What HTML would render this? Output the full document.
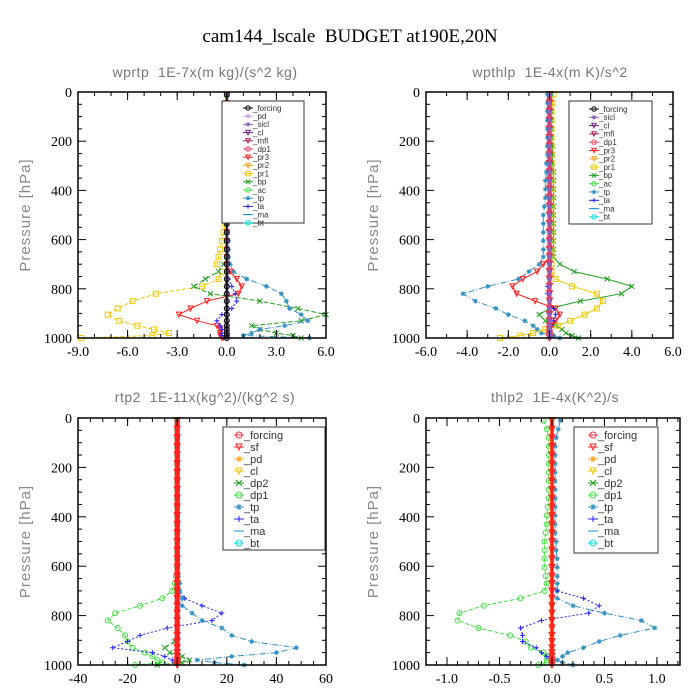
<!DOCTYPE html>
<html><head><meta charset="utf-8"><style>
body{margin:0;background:#fff}
svg{display:block}
text{white-space:pre}
</style></head><body>
<svg id="chart" width="700" height="700" viewBox="0 0 700 700" xmlns="http://www.w3.org/2000/svg">
<text x="350" y="42" text-anchor="middle" font-family="Liberation Serif, serif" font-size="19" fill="#000">cam144_lscale  BUDGET at190E,20N</text>
</svg>
<script>
// Pressure levels (hPa)
const levels = [10,45,80,115,150,185,220,255,290,325,360,395,430,465,500,535,570,605,640,670,700,730,760,790,820,850,880,905,930,950,965,980,990,1000];

// Panel 1: wprtp
const p1_pr1 = [0,0,0,0,0,0,0,0,0,0,0,0,0,0,-0.05,-0.1,-0.2,-0.3,-0.4,-0.5,-0.6,-0.3,-0.5,-1.5,-4.3,-5.7,-6.6,-7.2,-6.5,-5.4,-4.4,-3.5,-4.5,-8.8];
const p1_bp  = [0,0,0,0,0,0,0,0,0,0,0,0,0,0,0,0,0,0,0,0,-0.2,-0.5,-1.3,-2.0,-1.0,2.0,4.3,6.0,4.5,1.5,2.0,3.0,4.0,4.5];
const p1_tp  = [0,0,0,0,0,0,0,0,0,0,0,0,0,0,0,0,0.05,0.1,0.1,0.1,0.2,0.4,1.2,2.4,3.3,3.6,3.8,4.5,4.9,3.5,2.0,1.5,1.0,5.0];
const p1_pr3 = [0,0,0,0,0,0,0,0,0,0,0,0,0,0,0,0,0,0,0,0,0,0.2,0.6,0.9,0.7,-1.2,-2.2,-2.9,-1.8,-0.6,-0.4,-0.4,-0.4,-0.3];
const p1_ta  = [0,0,0,0,0,0,0,0,0,0,0,0,0,0,0,0,0,0,0,0,0,0,0.1,0.3,0.5,0.6,0.3,-0.3,-0.6,-0.4,-0.3,-0.3,-0.3,-0.2];
const p1_zero= [0,0,0,0,0,0,0,0,0,0,0,0,0,0,0,0,0,0,0,0,0,0,0,0,0,0,0,0,0,0,0,0,0,0];
const p1_xticks = [-9,-6,-3,0,3,6];
const p1_legend = ["_forcing","_pd","_sicl","_cl","_mfl","_dp1","_pr3","_pr2","_pr1","_bp","_ac","_tp","_ta","_ma","_bt"];

// Panel 2: wpthlp
const p2_tp  = [-0.1,-0.1,-0.1,-0.1,-0.1,-0.1,-0.1,-0.1,-0.15,-0.15,-0.2,-0.2,-0.2,-0.25,-0.3,-0.3,-0.3,-0.3,-0.3,-0.3,-0.5,-1.0,-1.5,-3.0,-4.2,-3.6,-2.6,-2.0,-1.2,-0.8,-0.6,-0.4,0.2,0.5];
const p2_bp  = [0.1,0.1,0.1,0.1,0.1,0.1,0.15,0.15,0.15,0.2,0.2,0.2,0.2,0.2,0.2,0.2,0.2,0.2,0.2,0.2,0.5,1.2,2.8,4.0,3.5,1.5,0.0,-0.5,-0.2,0.3,0.6,0.8,1.1,1.4];
const p2_pr1 = [0.2,0.15,0.1,0.1,0.1,0.1,0.1,0.1,0.1,0.1,0.1,0.1,0.1,0.1,0.1,0.1,0.1,0.1,0.1,0.1,0.1,0.1,0.3,1.1,2.3,2.6,2.3,1.7,1.0,0.4,-0.2,-0.8,-1.4,-2.4];
const p2_pr3 = [0,0,0,0,0,0,0,0,0,0,0,0,0,0,0,0,0,0,0,0,-0.3,-0.6,-1.3,-1.8,-1.6,-0.7,0.3,0.5,0.3,0.1,0,0,0,0];
const p2_ta  = [0,0,0,0,0,0,0,0,0,0,0,0,0,0,0,0,0,0,0,0,0,0,0,-0.1,-0.1,0,0.2,0.3,0.2,0.1,0,0,0,0];
const p2_zero= [0,0,0,0,0,0,0,0,0,0,0,0,0,0,0,0,0,0,0,0,0,0,0,0,0,0,0,0,0,0,0,0,0,0];
const p2_xticks = [-6,-4,-2,0,2,4,6];
const p2_legend = ["_forcing","_sicl","_cl","_mfl","_dp1","_pr3","_pr2","_pr1","_bp","_ac","_tp","_ta","_ma","_bt"];

// Panel 3: rtp2
const p3_dp1 = [0,0,0,0,0,0,0,0,0,0,0,0,0,0,0,0,0,0,-0.5,-1,-2,-6,-15,-25,-28,-24,-21,-20,-18,-13,-10,-8,-6,-17];
const p3_ta  = [0,0,0,0,0,0,0,0,0,0,0,0,0,0,0,0,0,0,0,0.5,1,3,10,18,14,-4,-15,-20,-26,-10,-5,-2,-1,0];
const p3_tp  = [0,0,0,0,0,0,0,0,0,0,0,0,0,0,0,0,0,0,0.5,1,1,2,2,6,10,18,22,30,48,40,22,8,15,27];
const p3_dp2 = [0,0,0,0,0,0,0,0,0,0,0,0,0,0,0,0,0,0,0,0,0,0,0,0,0,0,0,-1,-5,-3,2,5,2,-8];
const p3_zero= [0,0,0,0,0,0,0,0,0,0,0,0,0,0,0,0,0,0,0,0,0,0,0,0,0,0,0,0,0,0,0,0,0,0];
const p3_xticks = [-40,-20,0,20,40,60];
const p3_legend = ["_forcing","_sf","_pd","_cl","_dp2","_dp1","_tp","_ta","_ma","_bt"];

// Panel 4: thlp2
const p4_dp1 = [-0.08,-0.05,-0.03,-0.03,-0.03,-0.03,-0.03,-0.03,-0.03,-0.03,-0.04,-0.05,-0.05,-0.06,-0.07,-0.07,-0.07,-0.07,-0.06,-0.05,-0.07,-0.3,-0.65,-0.88,-0.9,-0.7,-0.4,-0.25,-0.2,-0.08,-0.05,-0.05,-0.05,-0.13];
const p4_tp  = [0.08,0.06,0.04,0.03,0.03,0.03,0.03,0.03,0.03,0.03,0.03,0.03,0.03,0.03,0.04,0.04,0.05,0.05,0.05,0.05,0.05,0.05,0.2,0.5,0.85,0.98,0.65,0.45,0.3,0.15,0.1,0.05,0.1,0.2];
const p4_ta  = [0,0,0,0,0,0,0,0,0,0,0,0,0,0,0,0,0,0,0,0,0.05,0.3,0.45,0.35,-0.1,-0.3,-0.28,-0.28,-0.15,-0.1,-0.05,0,0,0];
const p4_zero= [0,0,0,0,0,0,0,0,0,0,0,0,0,0,0,0,0,0,0,0,0,0,0,0,0,0,0,0,0,0,0,0,0,0];
const p4_xticks = [-1.0,-0.5,0.0,0.5,1.0];
const p4_legend = ["_forcing","_sf","_pd","_cl","_dp2","_dp1","_tp","_ta","_ma","_bt"];
const yticks = [0,200,400,600,800,1000];

const svg = document.getElementById('chart');
const NS = 'http://www.w3.org/2000/svg';
function mk(tag, attrs, parent){
  const e = document.createElementNS(NS, tag);
  for (const k in attrs) e.setAttribute(k, attrs[k]);
  (parent||svg).appendChild(e);
  return e;
}
const colorsTop = {"_forcing":"#000","_pd":"#c8a8e0","_sicl":"#9060c0","_cl":"#702080","_mfl":"#b02050","_dp1":"#ff4060","_pr3":"#ff2020","_pr2":"#ffa020","_pr1":"#f0c800","_bp":"#20a020","_ac":"#40e040","_tp":"#3090c0","_ta":"#2020ff","_ma":"#1090e0","_bt":"#00e0e0"};
const colorsBot = {"_forcing":"#ff3040","_sf":"#ff2020","_pd":"#ffa020","_cl":"#f0c800","_dp2":"#20a020","_dp1":"#40e040","_tp":"#3090c0","_ta":"#2020ff","_ma":"#1090e0","_bt":"#00e0e0"};
const markers = {"_forcing":"o","_pd":"*","_sicl":"*","_cl":"t","_mfl":"t","_dp1":"o","_pr3":"t","_pr2":"t","_pr1":"s","_bp":"x","_ac":"o","_tp":"*","_ta":"+","_ma":"-","_bt":"o","_sf":"t","_dp2":"x"};
function marker(g, type, x, y, c, r){
  r = r||2.5;
  if (type==='o') mk('circle',{cx:x,cy:y,r:r,fill:'none',stroke:c,'stroke-width':1},g);
  else if (type==='s') mk('rect',{x:x-r,y:y-r,width:2*r,height:2*r,fill:'none',stroke:c,'stroke-width':1},g);
  else if (type==='t') mk('path',{d:`M${x-r} ${y-r}L${x+r} ${y-r}L${x} ${y+r}Z`,fill:'none',stroke:c,'stroke-width':1},g);
  else if (type==='x') mk('path',{d:`M${x-r} ${y-r}L${x+r} ${y+r}M${x-r} ${y+r}L${x+r} ${y-r}`,stroke:c,'stroke-width':1},g);
  else if (type==='+') mk('path',{d:`M${x-r} ${y}L${x+r} ${y}M${x} ${y-r}L${x} ${y+r}`,stroke:c,'stroke-width':1},g);
  else if (type==='*') mk('path',{d:`M${x-r} ${y}L${x+r} ${y}M${x} ${y-r}L${x} ${y+r}M${x-r*0.7} ${y-r*0.7}L${x+r*0.7} ${y+r*0.7}M${x-r*0.7} ${y+r*0.7}L${x+r*0.7} ${y-r*0.7}`,stroke:c,'stroke-width':1},g);
  else if (type==='-') mk('path',{d:`M${x-r} ${y}L${x+r} ${y}`,stroke:c,'stroke-width':1},g);
}
function panel(cfg){
  const colors = cfg.colors;
  const g = mk('g',{});
  
  
  const {x0,x1,y0,y1,xmin,xmax} = cfg;
  const sx = v => x0 + (v - xmin)/(xmax - xmin)*(x1 - x0);
  const sy = p => y0 + p/1000*(y1 - y0);
  const t = mk('text',{x:cfg.tx,y:cfg.ty,'text-anchor':'middle','font-family':'Liberation Sans, sans-serif','font-size':14,fill:'#777','letter-spacing':'0.5'},g);
  t.textContent = cfg.title;
  
  
  const yt = mk('text',{x:0,y:0,transform:`translate(${x0-48},${(y0+y1)/2}) rotate(-90)`,'text-anchor':'middle','font-family':'Liberation Sans, sans-serif','font-size':15,fill:'#888','letter-spacing':'1'},g);
  yt.textContent = 'Pressure [hPa]';
  
  
  cfg.series.forEach(s => {
    const sg = mk('g',{},g);
    
    
    const c = colors[s.key];
    const pts = s.vals.map((v,i)=>`${sx(v).toFixed(1)},${sy(levels[i]).toFixed(1)}`).join(' ');
    mk('polyline',{points:pts,fill:'none',stroke:c,'stroke-width':s.w||1,'stroke-dasharray':s.dash||'none'},sg);
    s.vals.forEach((v,i)=>marker(sg, markers[s.key], sx(v), sy(levels[i]), c, s.r||2.5));
  });
  const f = mk('rect',{x:x0,y:y0,width:x1-x0,height:y1-y0,fill:'none',stroke:'#000','stroke-width':1.5},g);
  
  
  for (let p=0;p<=1000;p+=50){
    const L = p%200===0 ? 8 : 4;
    mk('line',{x1:x0,x2:x0+L,y1:sy(p),y2:sy(p),stroke:'#000'},g);
    mk('line',{x1:x1,x2:x1-L,y1:sy(p),y2:sy(p),stroke:'#000'},g);
  }
  yticks.forEach(p=>{
    const tl = mk('text',{x:x0-6,y:sy(p)+5,'text-anchor':'end','font-family':'Liberation Serif, serif','font-size':14,fill:'#000'},g);
    tl.textContent = p;
    
    
  });
  for (let v=cfg.minStart; v<=xmax+1e-9; v+=cfg.minStep){
    if (v < xmin-1e-9) continue;
    mk('line',{x1:sx(v),x2:sx(v),y1:y1,y2:y1-4,stroke:'#000'},g);
    mk('line',{x1:sx(v),x2:sx(v),y1:y0,y2:y0+4,stroke:'#000'},g);
  }
  cfg.xticks.forEach(v=>{
    mk('line',{x1:sx(v),x2:sx(v),y1:y1,y2:y1-8,stroke:'#000'},g);
    mk('line',{x1:sx(v),x2:sx(v),y1:y0,y2:y0+8,stroke:'#000'},g);
    const tl = mk('text',{x:sx(v),y:y1+18,'text-anchor':'middle','font-family':'Liberation Serif, serif','font-size':14,fill:'#000'},g);
    tl.textContent = v.toFixed(cfg.dec);
    
    
  });
  const lg = mk('g',{},g);
  
  
  const L = cfg.leg;
  mk('rect',{x:L.x,y:L.y,width:L.w,height:L.h,fill:'#fff',stroke:'#333','stroke-width':1},lg);
  cfg.legend.forEach((name,i)=>{
    const yy = L.y0 + i*L.dy;
    const c = colors[name];
    mk('line',{x1:L.mx-5,x2:L.mx+5,y1:yy,y2:yy,stroke:c},lg);
    marker(lg, markers[name], L.mx, yy, c, L.fs>9?3:2.2);
    const tx = mk('text',{x:L.mx+5,y:yy+L.fs*0.35,'font-family':'Liberation Sans, sans-serif','font-size':L.fs,fill:'#333'},lg);
    tx.textContent = name;
    
    
  });
}
panel({name:'panel-wprtp',colors:colorsTop,title:'wprtp  1E-7x(m kg)/(s^2 kg)',tx:205,ty:77,x0:78,x1:326,y0:92,y1:338,xmin:-9,xmax:6,xticks:p1_xticks,dec:1,minStart:-9,minStep:1,
  series:[{key:'_pr1',vals:p1_pr1,dash:'4,2'},{key:'_bp',vals:p1_bp,dash:'5,2'},{key:'_tp',vals:p1_tp,dash:'6,2,1,2'},{key:'_pr3',vals:p1_pr3},{key:'_ta',vals:p1_ta,dash:'2,2'},{key:'_sicl',vals:p1_zero,w:3},{key:'_forcing',vals:p1_zero,w:1.5}],
  legend:p1_legend,leg:{x:222,y:101,w:82,h:122,mx:248,y0:108,dy:8.2,fs:8}});
panel({name:'panel-wpthlp',colors:colorsTop,title:'wpthlp  1E-4x(m K)/s^2',tx:550,ty:77,x0:426,x1:673,y0:92,y1:338,xmin:-6,xmax:6,xticks:p2_xticks,dec:1,minStart:-6,minStep:1,
  series:[{key:'_tp',vals:p2_tp,dash:'6,2,1,2'},{key:'_bp',vals:p2_bp},{key:'_pr1',vals:p2_pr1},{key:'_pr3',vals:p2_pr3},{key:'_ta',vals:p2_ta,dash:'2,2'},{key:'_pr3',vals:p2_zero,w:4,r:3},{key:'_sicl',vals:p2_zero,w:2}],
  legend:p2_legend,leg:{x:569,y:101,w:83,h:123,mx:594,y0:109,dy:8.3,fs:8}});
panel({name:'panel-rtp2',colors:colorsBot,title:'rtp2  1E-11x(kg^2)/(kg^2 s)',tx:205,ty:402,x0:78,x1:326,y0:418,y1:665,xmin:-40,xmax:60,xticks:p3_xticks,dec:0,minStart:-40,minStep:5,
  series:[{key:'_dp1',vals:p3_dp1,dash:'4,2'},{key:'_ta',vals:p3_ta,dash:'2,2'},{key:'_tp',vals:p3_tp,dash:'6,2,1,2'},{key:'_dp2',vals:p3_dp2,dash:'4,2'},{key:'_sf',vals:p3_zero,w:5,r:3}],
  legend:p3_legend,leg:{x:223,y:427,w:102,h:123,mx:239,y0:435,dy:12,fs:11}});
panel({name:'panel-thlp2',colors:colorsBot,title:'thlp2  1E-4x(K^2)/s',tx:555,ty:402,x0:426,x1:680,y0:418,y1:665,xmin:-1.2,xmax:1.22,xticks:p4_xticks,dec:1,minStart:-1.2,minStep:0.1,
  series:[{key:'_dp1',vals:p4_dp1,dash:'4,2'},{key:'_tp',vals:p4_tp,dash:'6,2,1,2'},{key:'_ta',vals:p4_ta,dash:'2,2'},{key:'_pd',vals:p4_zero,w:4},{key:'_sf',vals:p4_zero,w:3,r:3}],
  legend:p4_legend,leg:{x:574,y:427,w:84,h:126,mx:593,y0:435,dy:12,fs:11}});
</script>
</body></html>
